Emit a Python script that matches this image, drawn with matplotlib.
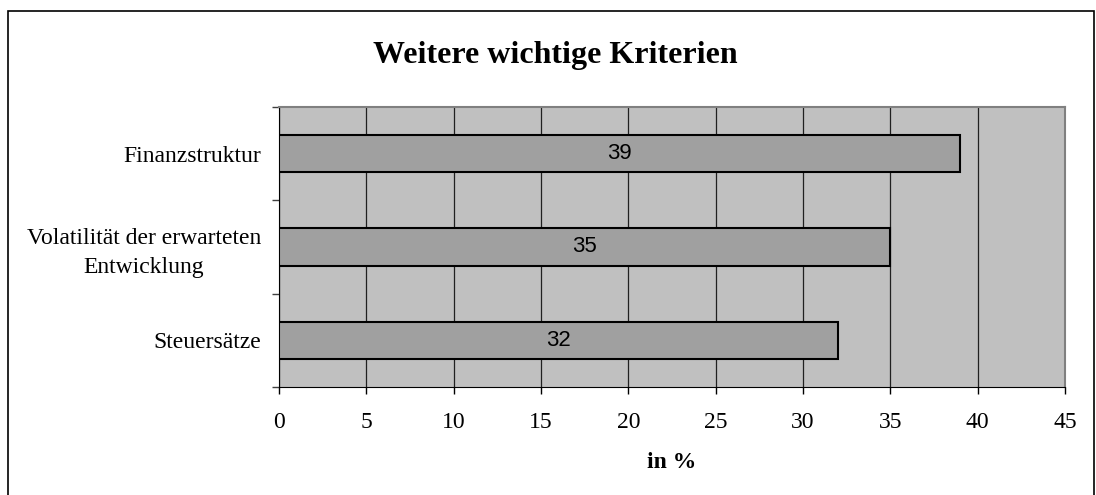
import matplotlib.pyplot as plt
from matplotlib.patches import Rectangle

# Daten
kriterien = ["Finanzstruktur", "Volatilität der erwarteten\nEntwicklung", "Steuersätze"]
werte = [39, 35, 32]
xticks = [0, 5, 10, 15, 20, 25, 30, 35, 40, 45]

serif = "Liberation Serif"
sans = "Liberation Sans"

fig = plt.figure(figsize=(10.96, 4.95), dpi=100)
ax = fig.add_axes([0.2546, 0.2182, 0.7172, 0.5657])

# Rahmen um das Diagramm (unten abgeschnitten)
fig.patches.append(Rectangle((0.0073, -0.02), 0.9912, 0.9978, transform=fig.transFigure,
                             fill=False, edgecolor="black", linewidth=1.2))

ax.set_facecolor("#C0C0C0")
pos = list(range(len(kriterien)))
bars = ax.barh(pos, werte, height=0.4, color="#A0A0A0", edgecolor="black", linewidth=1.5, zorder=3)
for b, w in zip(bars, werte):
    ax.text(w / 2, b.get_y() + b.get_height() / 2, str(w), ha="center", va="center",
            fontsize=16, family=sans, zorder=4)

ax.set_xlim(0, 45)
ax.set_ylim(len(kriterien) - 0.5, -0.5)
ax.set_xticks(xticks)
ax.set_xticklabels([str(t) for t in xticks], family=serif, fontsize=17)
ax.xaxis.grid(True, color="#202020", linewidth=0.9, zorder=1)

# Kategoriegrenzen als Ticks, Beschriftungen in der Mitte
ax.set_yticks([-0.5, 0.5, 1.5, 2.5])
ax.set_yticklabels([])
ax.set_yticks(pos, minor=True)
ax.set_yticklabels(kriterien, minor=True, family=serif, fontsize=17, ha="right",
                   multialignment="center", linespacing=1.5)
ax.tick_params(axis="y", which="minor", length=0, pad=13)
ax.tick_params(axis="y", which="major", length=5, width=1, color="#404040")
ax.tick_params(axis="x", length=5, width=1, pad=13)

for s in ["top", "right"]:
    ax.spines[s].set_color("#808080")
    ax.spines[s].set_linewidth(1.5)
ax.spines["left"].set_color("black")
ax.spines["bottom"].set_color("black")

ax.set_xlabel("in %", family=serif, fontsize=17, fontweight="bold", labelpad=14)
fig.text(0.5069, 0.887, "Weitere wichtige Kriterien", ha="center", va="center",
         family=serif, fontsize=23, fontweight="bold")

fig.savefig("out.png", dpi=100)
